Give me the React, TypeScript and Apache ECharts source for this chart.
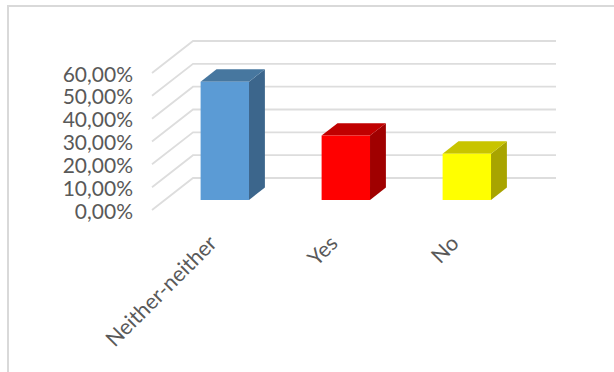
import React, { useEffect, useRef } from "react";
import * as echarts from "echarts";

const categories = ["Neither-neither", "Yes", "No"];
const shares = [51.8, 28.2, 20.3];
const gridTicks = [0, 10, 20, 30, 40, 50, 60];

// front, top and side face colours of each column
const frontColors = ["#5B9BD5", "#FF0000", "#FFFF00"];
const topColors = ["#47779F", "#C00000", "#C8C400"];
const sideColors = ["#3C668C", "#A00000", "#A8A400"];

// oblique projection of the chart floor: how far the back wall is shifted
const WALL_DX = 41;
const WALL_DY = 32;
// columns stand between these fractions of the floor depth
const COLUMN_NEAR = 0.3125;
const COLUMN_FAR = 0.7;
const COLUMN_WIDTH = 0.4;

const formatPercent = (v: number) => v.toFixed(2).replace(".", ",") + "%";

export default function App() {
  const ref = useRef<HTMLDivElement>(null);

  useEffect(() => {
    const chart = echarts.init(ref.current!, undefined, { renderer: "svg" });

    const renderWall = (params: any, api: any) => {
      const sys = params.coordSys;
      const y = api.coord([0, api.value(1)])[1];
      return {
        type: "polyline",
        shape: {
          points: [
            [sys.x, y],
            [sys.x + WALL_DX, y - WALL_DY],
            [sys.x + sys.width + WALL_DX, y - WALL_DY],
          ],
        },
        style: { stroke: "#DDDDDD", lineWidth: 1.8, fill: "none" },
      };
    };

    const renderColumn = (params: any, api: any) => {
      const i = api.value(0);
      const [cx, top] = api.coord([i, api.value(1)]);
      const [, base] = api.coord([i, 0]);
      const w = api.size([1, 0])[0] * COLUMN_WIDTH;
      const dx0 = WALL_DX * COLUMN_NEAR;
      const dy0 = WALL_DY * COLUMN_NEAR;
      const dx1 = WALL_DX * COLUMN_FAR;
      const dy1 = WALL_DY * COLUMN_FAR;
      const l = cx - w / 2 + dx0 - 0.5;
      const r = cx + w / 2 + dx0 - 0.5;
      const t = top - dy0;
      const b = base - dy0;
      const ox = dx1 - dx0;
      const oy = dy1 - dy0;
      return {
        type: "group",
        children: [
          {
            type: "polygon",
            shape: { points: [[r, t], [r + ox, t - oy], [r + ox, b - oy], [r, b]] },
            style: { fill: sideColors[i] },
          },
          {
            type: "polygon",
            shape: { points: [[l, t], [l + ox, t - oy], [r + ox, t - oy], [r, t]] },
            style: { fill: topColors[i] },
          },
          {
            type: "rect",
            shape: { x: l, y: t, width: w, height: b - t },
            style: { fill: frontColors[i] },
          },
        ],
      };
    };

    chart.setOption({
      animation: false,
      backgroundColor: "#FFFFFF",
      grid: { left: 152, top: 73, width: 363, height: 137, containLabel: false },
      xAxis: {
        type: "category",
        data: categories,
        axisLine: { show: false },
        axisTick: { show: false },
        splitLine: { show: false },
        axisLabel: {
          rotate: 45,
          interval: 0,
          margin: 29,
          color: "#595959",
          fontFamily: "Lato",
          fontSize: 21.5,
        },
      },
      yAxis: {
        type: "value",
        min: 0,
        max: 60,
        interval: 10,
        axisLine: { show: false },
        axisTick: { show: false },
        splitLine: { show: false },
        axisLabel: {
          margin: 19,
          color: "#595959",
          fontFamily: "Lato",
          fontSize: 21,
          formatter: formatPercent,
        },
      },
      graphic: [
        {
          type: "polyline",
          silent: true,
          shape: { points: [[8, 372], [8, 6], [614, 6]] },
          style: { stroke: "#D9D9D9", lineWidth: 2, fill: "none" },
        },
      ],
      series: [
        {
          type: "custom",
          clip: false,
          silent: true,
          renderItem: renderWall,
          encode: { x: 0, y: 1 },
          data: gridTicks.map((v) => [0, v]),
          z: 1,
        },
        {
          type: "custom",
          clip: false,
          silent: true,
          renderItem: renderColumn,
          encode: { x: 0, y: 1 },
          data: shares.map((v, i) => [i, v]),
          z: 2,
        },
      ],
    });

    return () => chart.dispose();
  }, []);

  return (
    <div
      ref={ref}
      style={{ position: "absolute", left: 0, top: 0, width: 614, height: 372 }}
    />
  );
}
